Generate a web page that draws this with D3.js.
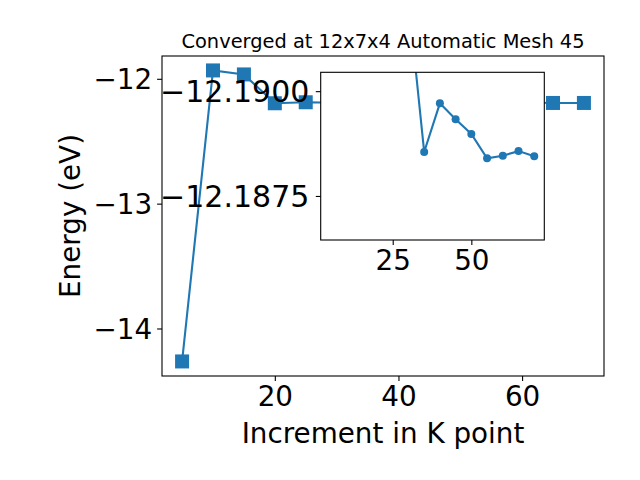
<!DOCTYPE html>
<html>
<head>
<meta charset="utf-8">
<script src="https://cdn.jsdelivr.net/npm/d3@7"></script>
<style>
  body { margin: 0; background: #fff; }
  text { font-family: "DejaVu Sans", sans-serif; }
</style>
</head>
<body>
<script>
// main series (k-point increment vs energy)
const kPoints = [5, 10, 15, 20, 25, 30, 35, 40, 45, 50, 55, 60, 65, 70];
const energies = [-14.264, -11.933, -11.965, -12.196, -12.188, -12.1922, -12.18855, -12.18971,
                  -12.18933, -12.18898, -12.1884, -12.18846, -12.1935, -12.1935];

// inset (zoomed) series
const insetK = [30, 35, 40, 45, 50, 55, 60, 65, 70];
const insetE = [-12.1922, -12.18855, -12.18971, -12.18933, -12.18898, -12.1884, -12.18846, -12.18857, -12.18845];

const xTicks = [20, 40, 60];
const yTicks = [-12, -13, -14];
const insetXTicks = [25, 50];
const insetYTicks = [-12.19, -12.1875];

const titleText = "Converged at 12x7x4 Automatic Mesh 45";
const xLabel = "Increment in K point";
const yLabel = "Energy (eV)";

const svgWidth = 640;
const svgHeight = 480;
const blue = "#1f77b4";
const tickFont = "27.8px";

const svg = d3.select("body")
    .append("svg")
    .attr("width", svgWidth)
    .attr("height", svgHeight);

svg.append("rect").attr("width", svgWidth).attr("height", svgHeight).attr("fill", "#fff");

// main axes box
const mLeft = 162, mRight = 604, mTop = 56, mBottom = 376;

const x = d3.scaleLinear().domain([1.75, 73.25]).range([mLeft, mRight]);
const y = d3.scaleLinear().domain([-14.3806, -11.8174]).range([mBottom, mTop]);

svg.append("defs").append("clipPath").attr("id", "mainclip")
    .append("rect").attr("x", mLeft).attr("y", mTop).attr("width", mRight - mLeft).attr("height", mBottom - mTop);

const main = svg.append("g").attr("clip-path", "url(#mainclip)");

main.append("path")
    .datum(kPoints.map((k, i) => [k, energies[i]]))
    .attr("fill", "none")
    .attr("stroke", blue)
    .attr("stroke-width", 2.1)
    .attr("d", d3.line().x(d => x(d[0])).y(d => y(d[1])));

const sq = 14;
svg.selectAll(".sq")
    .data(kPoints.map((k, i) => [k, energies[i]]))
    .enter()
    .append("rect")
    .attr("x", d => x(d[0]) - sq / 2)
    .attr("y", d => y(d[1]) - sq / 2)
    .attr("width", sq)
    .attr("height", sq)
    .attr("fill", blue);

// main axes
const xAxis = svg.append("g")
    .attr("transform", `translate(0,${mBottom})`)
    .call(d3.axisBottom(x).tickValues(xTicks).tickSize(4.9).tickPadding(4.9).tickFormat(d3.format("d")));
const yAxis = svg.append("g")
    .attr("transform", `translate(${mLeft},0)`)
    .call(d3.axisLeft(y).tickValues(yTicks).tickSize(4.9).tickPadding(4.9).tickFormat(d => "\u2212" + Math.abs(d)));

[xAxis, yAxis].forEach(a => {
    a.select(".domain").remove();
    a.selectAll("text").style("font-size", tickFont).attr("fill", "#000");
    a.selectAll("line").attr("stroke", "#000").attr("stroke-width", 1.1);
});
xAxis.selectAll("text").attr("dy", "0.73em");
yAxis.selectAll("text").attr("dy", "0.36em");

svg.append("rect")
    .attr("x", mLeft).attr("y", mTop)
    .attr("width", mRight - mLeft).attr("height", mBottom - mTop)
    .attr("fill", "none").attr("stroke", "#000").attr("stroke-width", 1.1);

// labels
svg.append("text")
    .attr("x", (mLeft + mRight) / 2)
    .attr("y", 47.5)
    .attr("text-anchor", "middle")
    .style("font-size", "19.4px")
    .text(titleText);

svg.append("text")
    .attr("x", (mLeft + mRight) / 2)
    .attr("y", 443)
    .attr("text-anchor", "middle")
    .style("font-size", "27.8px")
    .text(xLabel);

svg.append("text")
    .attr("transform", `translate(80,${(mTop + mBottom) / 2}) rotate(-90)`)
    .attr("text-anchor", "middle")
    .style("font-size", "27.8px")
    .text(yLabel);

// inset axes
const iLeft = 320.7, iRight = 544.3, iTop = 72.3, iBottom = 240;
const ix = d3.scaleLinear().domain([2.1, 73.2]).range([iLeft, iRight]);
const iy = d3.scaleLinear().domain([-12.19045, -12.18645]).range([iTop, iBottom]);

svg.append("rect")
    .attr("x", iLeft).attr("y", iTop)
    .attr("width", iRight - iLeft).attr("height", iBottom - iTop)
    .attr("fill", "#fff");

svg.select("defs").append("clipPath").attr("id", "insetclip")
    .append("rect").attr("x", iLeft).attr("y", iTop).attr("width", iRight - iLeft).attr("height", iBottom - iTop);

const inset = svg.append("g").attr("clip-path", "url(#insetclip)");
const insetData = insetK.map((k, i) => [k, insetE[i]]);

inset.append("path")
    .datum(insetData)
    .attr("fill", "none")
    .attr("stroke", blue)
    .attr("stroke-width", 2.1)
    .attr("d", d3.line().x(d => ix(d[0])).y(d => iy(d[1])));

inset.selectAll("circle")
    .data(insetData)
    .enter()
    .append("circle")
    .attr("cx", d => ix(d[0]))
    .attr("cy", d => iy(d[1]))
    .attr("r", 4)
    .attr("fill", blue);

const ixAxis = svg.append("g")
    .attr("transform", `translate(0,${iBottom})`)
    .call(d3.axisBottom(ix).tickValues(insetXTicks).tickSize(4.9).tickPadding(4.9).tickFormat(d3.format("d")));
const iyAxis = svg.append("g")
    .attr("transform", `translate(${iLeft},0)`)
    .call(d3.axisLeft(iy).tickValues(insetYTicks).tickSize(4.9).tickPadding(6.5)
        .tickFormat(d => "\u2212" + Math.abs(d).toFixed(4)));

[ixAxis, iyAxis].forEach(a => {
    a.select(".domain").remove();
    a.selectAll("text").style("font-size", tickFont).attr("fill", "#000");
    a.selectAll("line").attr("stroke", "#000").attr("stroke-width", 1.1);
});
iyAxis.selectAll("text").style("font-size", "30px");
ixAxis.selectAll("text").attr("dy", "0.73em");
iyAxis.selectAll("text").attr("dy", "0.36em");

svg.append("rect")
    .attr("x", iLeft).attr("y", iTop)
    .attr("width", iRight - iLeft).attr("height", iBottom - iTop)
    .attr("fill", "none").attr("stroke", "#000").attr("stroke-width", 1.1);
</script>
</body>
</html>
